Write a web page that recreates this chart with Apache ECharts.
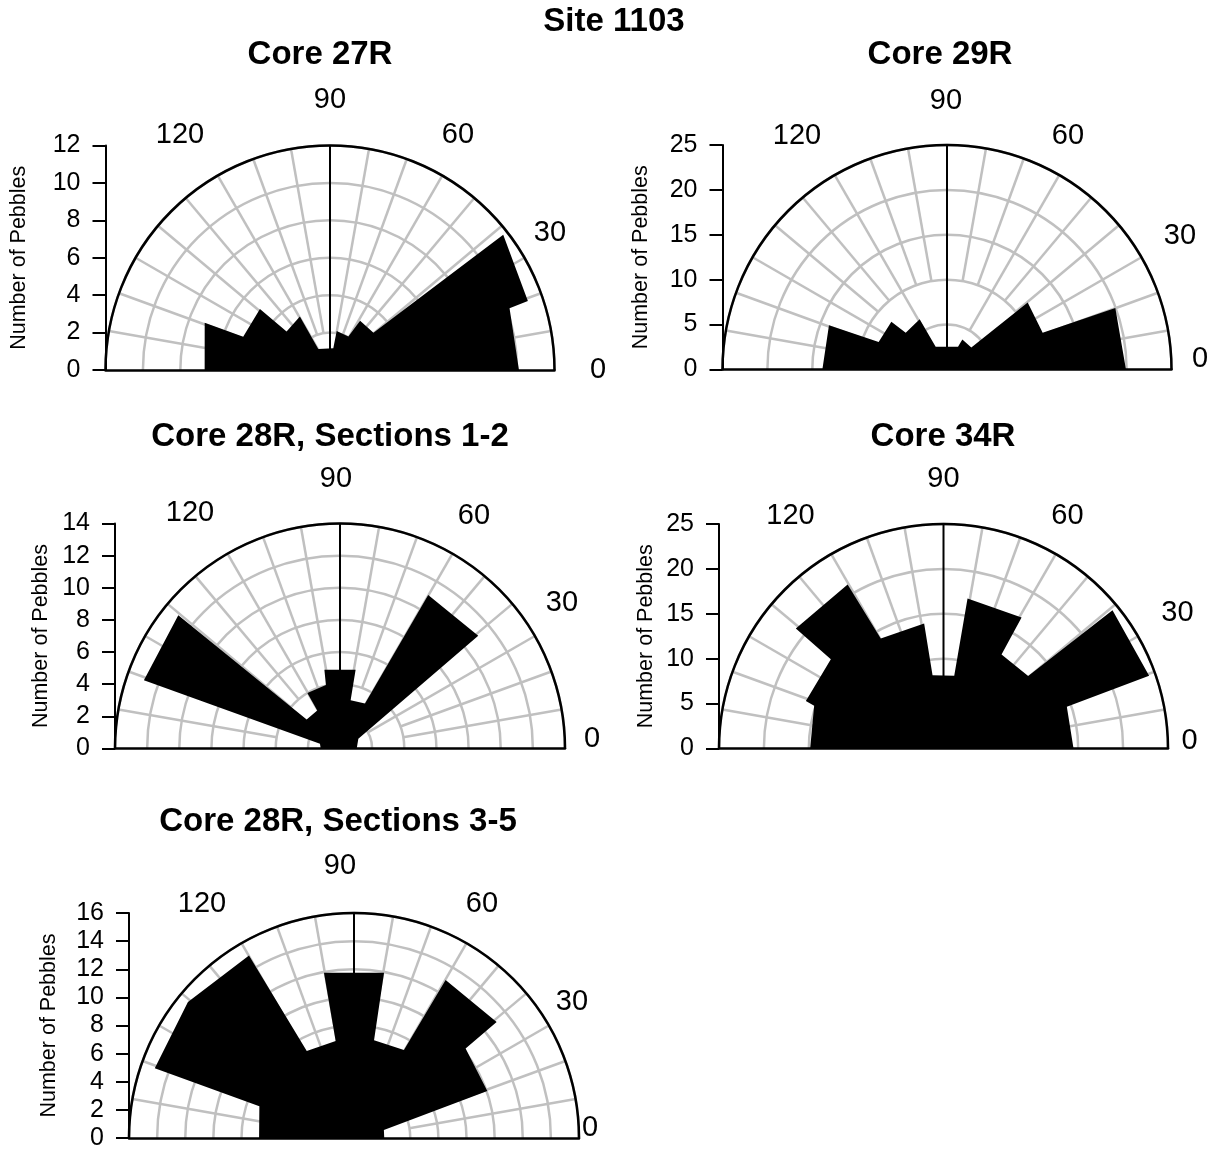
<!DOCTYPE html>
<html>
<head>
<meta charset="utf-8">
<title>Site 1103 pebble orientations</title>
<script src="https://cdn.jsdelivr.net/npm/echarts@6/dist/echarts.min.js"></script>
<style>
  html, body { margin: 0; padding: 0; background: #ffffff; }
  #chart { width: 1217px; height: 1149px; }
</style>
</head>
<body>
<div id="chart"></div>
<script>
// Pebble long-axis orientations, Site 1103.
// Each rose outline is a list of [direction (degrees), number of pebbles]
// vertices running counter-clockwise from 0 to 180 degrees.
const core27R = [
  [0, 10.1], [19, 10.15], [19.2, 11.2], [38, 11.75], [40.6, 3.06], [58.5, 3.08],
  [61.2, 2.04], [80.3, 2.12], [81.3, 1.17], [119, 1.29], [119.4, 3.28],
  [138.5, 3.1], [138.9, 4.97], [159, 4.97], [159.3, 7.16], [180, 6.7]
];
const core29R = [
  [0, 19.93], [20.1, 19.96], [21, 11.41], [39.7, 11.68], [42.1, 3.65], [62.9, 3.75],
  [64.1, 2.81], [116.6, 2.82], [118.5, 6.38], [138.4, 6.15], [139.4, 8.16],
  [158, 8.21], [159.4, 14.04], [180, 13.88]
];
const core28R_1_2 = [
  [0, 1.04], [27.8, 1.29], [39.2, 11.1], [60.1, 11.01], [60.9, 3.2], [77.6, 3.08],
  [78.8, 5.0], [101.2, 5.0], [102.5, 4.05], [120.5, 4.0], [121, 2.75], [139, 2.75],
  [140.5, 13.04], [160.8, 12.92], [166.9, 1.28], [180, 1.2]
];
const core34R = [
  [0, 14.48], [18.7, 14.5], [19.5, 24.29], [39.3, 24.32], [40.6, 12.42], [58.3, 12.3],
  [59.2, 16.98], [80.9, 16.92], [81.6, 8.18], [98.5, 8.26], [98.8, 14.09],
  [119.7, 14.1], [120.3, 21.16], [140.9, 21.19], [141.6, 16.01], [161, 16.21],
  [161.7, 15.17], [180, 14.85]
];
const core28R_3_5 = [
  [0, 2.15], [15, 2.2], [19.4, 10.05], [38.7, 10.17], [39.1, 13.07], [59.9, 12.99],
  [60.4, 7.19], [78.4, 7.09], [79.7, 11.94], [100.3, 11.94], [100.7, 7.02],
  [118.5, 7.04], [119.9, 14.98], [140.7, 15.26], [160.7, 15.01], [161.4, 7.1],
  [180, 6.75]
];

// Direction labels and the 10-degree spokes of each rose.
const directionLabels = [0, 30, 60, 90, 120];
const spokeDirections = [10, 20, 30, 40, 50, 60, 70, 80, 90, 100, 110, 120, 130, 140, 150, 160, 170];

const FONT = '"Liberation Sans", Arial, Helvetica, sans-serif';
const GRID_GRAY = '#c0c0c0';

// Layout of the five roses (pixel centres, radii, label offsets).
const panels = [
  { title: 'Core 27R', outline: core27R, max: 12, step: 2,
    cx: 330, cy: 370, r: 224.5, titleX: 320, titleY: 55, nameGap: 75, spokeInner: [2, 1],
    labelOffsets: [[268, 0], [220, -137], [128, -235], [0, -270], [-150, -235]] },
  { title: 'Core 29R', outline: core29R, max: 25, step: 5,
    cx: 947, cy: 369.5, r: 224.5, titleX: 940, titleY: 55, nameGap: 70, spokeInner: [10, 5],
    labelOffsets: [[253, -11], [233, -134], [121, -234], [-1, -269], [-150, -234]] },
  { title: 'Core 28R, Sections 1-2', outline: core28R_1_2, max: 14, step: 2,
    cx: 340, cy: 748.5, r: 225, titleX: 330, titleY: 437, nameGap: 63, spokeInner: [4, 2],
    labelOffsets: [[252, -10], [222, -146], [134, -233], [-4, -270], [-150, -236]] },
  { title: 'Core 34R', outline: core34R, max: 25, step: 5,
    cx: 943.5, cy: 748.5, r: 224.5, titleX: 943, titleY: 437, nameGap: 62, spokeInner: [10, 5],
    labelOffsets: [[246, -8], [234, -136], [124, -233], [0, -270], [-153, -233]] },
  { title: 'Core 28R, Sections 3-5', outline: core28R_3_5, max: 16, step: 2,
    cx: 354, cy: 1138, r: 225, titleX: 338, titleY: 822, nameGap: 69, spokeInner: [4, 2],
    labelOffsets: [[236, -10], [218, -136], [128, -234], [-14, -272], [-152, -234]] }
];

const option = {
  animation: false,
  backgroundColor: '#ffffff',
  textStyle: { fontFamily: FONT },
  polar: [], angleAxis: [], radiusAxis: [],
  grid: [], xAxis: [], yAxis: [],
  series: [],
  graphic: [{
    type: 'text', x: 614, y: 22, z: 10,
    style: { text: 'Site 1103', fill: '#000', fontSize: 33, fontWeight: 'bold',
             fontFamily: FONT, align: 'center', verticalAlign: 'middle' }
  }]
};

panels.forEach((p, i) => {
  option.polar.push({ center: [p.cx, p.cy], radius: p.r });

  option.angleAxis.push({
    polarIndex: i, type: 'value', min: 0, max: 180,
    startAngle: 0, endAngle: 180, clockwise: false, z: 5,
    axisLine: { show: true, lineStyle: { color: '#000', width: 2.5 } },
    axisTick: { show: false }, axisLabel: { show: false },
    splitLine: { show: false }, splitArea: { show: false }
  });

  option.radiusAxis.push({
    polarIndex: i, type: 'value', min: 0, max: p.max, interval: p.step, z: 0,
    axisLine: { show: false }, axisTick: { show: false }, axisLabel: { show: false },
    splitLine: { show: true, lineStyle: { color: GRID_GRAY, width: 2.5 } },
    splitArea: { show: false }
  });

  // Cartesian frame: count axis on the left, base line along the diameter.
  option.grid.push({
    left: p.cx - p.r, top: p.cy - p.r, width: 2 * p.r, height: p.r,
    containLabel: false, outerBoundsMode: 'none', show: false
  });
  option.xAxis.push({
    gridIndex: i, type: 'value', min: -p.max, max: p.max, z: 5,
    axisLine: { show: true, onZero: false, lineStyle: { color: '#000', width: 2.5 } },
    axisTick: { show: false }, axisLabel: { show: false }, splitLine: { show: false }
  });
  option.yAxis.push({
    gridIndex: i, type: 'value', position: 'left', min: 0, max: p.max, interval: p.step, z: 5,
    axisLine: { show: true, onZero: false, lineStyle: { color: '#000', width: 2 } },
    axisTick: { show: true, length: 13, lineStyle: { color: '#000', width: 2 } },
    axisLabel: { color: '#000', fontSize: 25, margin: 25, fontFamily: FONT },
    splitLine: { show: false },
    name: 'Number of Pebbles', nameLocation: 'middle', nameRotate: 90, nameGap: p.nameGap,
    nameTextStyle: { color: '#000', fontSize: 21.5, fontFamily: FONT }
  });

  // Spokes every 10 degrees; the vertical one is drawn in black.
  option.series.push({
    type: 'custom', coordinateSystem: 'polar', polarIndex: i, z: 1, silent: true,
    data: spokeDirections.map(a => [p.max, a]),
    renderItem: (params, api) => {
      const rOuter = api.value(0);
      const a = api.value(1);
      const vertical = a === 90;
      const r0 = vertical ? 0 : (a % 30 === 0 ? p.spokeInner[1] : p.spokeInner[0]);
      const s = api.coord([r0, a]);
      const e = api.coord([rOuter, a]);
      return {
        type: 'line',
        shape: { x1: s[0], y1: s[1], x2: e[0], y2: e[1] },
        style: { stroke: vertical ? '#000' : GRID_GRAY, lineWidth: vertical ? 2 : 2.5 }
      };
    }
  });

  // Filled rose outline.
  option.series.push({
    type: 'custom', coordinateSystem: 'polar', polarIndex: i, z: 2, silent: true,
    data: p.outline.map(([a, n]) => [n, a]),
    renderItem: (params, api) => {
      if (params.dataIndex !== 0) return null;
      const pts = p.outline.map(([a, n]) => api.coord([n, a]));
      return { type: 'polygon', shape: { points: pts }, style: { fill: '#000', stroke: null } };
    }
  });

  // Panel title and direction labels.
  option.graphic.push({
    type: 'text', x: p.titleX, y: p.titleY, z: 10,
    style: { text: p.title, fill: '#000', fontSize: 33, fontWeight: 'bold',
             fontFamily: FONT, align: 'center', verticalAlign: 'middle' }
  });
  directionLabels.forEach((deg, k) => {
    option.graphic.push({
      type: 'text', x: p.cx + p.labelOffsets[k][0], y: p.cy + p.labelOffsets[k][1], z: 10,
      style: { text: String(deg), fill: '#000', fontSize: 29, fontFamily: FONT,
               align: 'center', verticalAlign: 'middle' }
    });
  });
});

const chart = echarts.init(document.getElementById('chart'), null, { renderer: 'canvas' });
chart.setOption(option);
</script>
</body>
</html>
